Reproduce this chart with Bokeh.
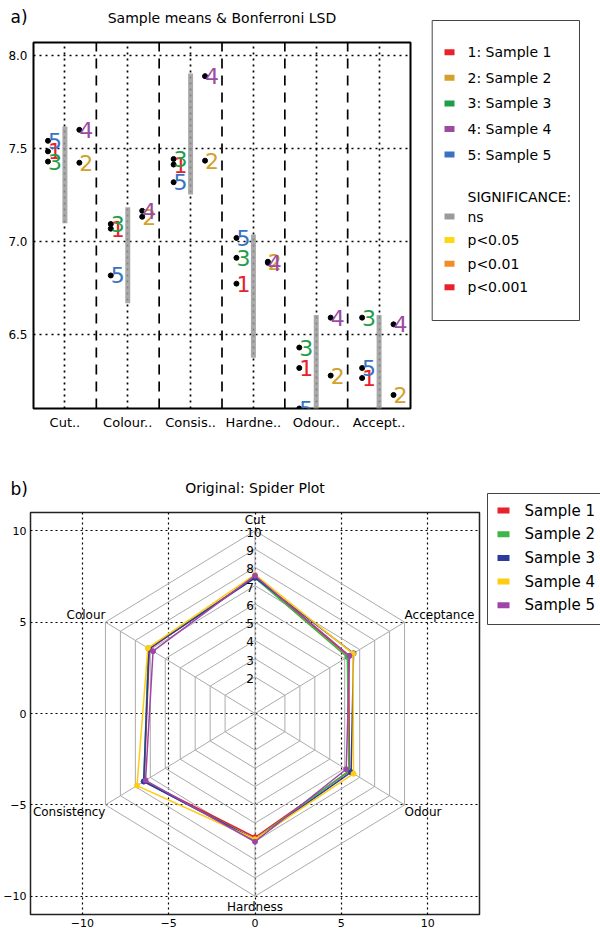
import numpy as np
from bokeh.plotting import figure
from bokeh.layouts import row, column
from bokeh.models import FixedTicker, Range1d, PrintfTickFormatter
from bokeh.core.properties import value
from bokeh.embed import file_html
from bokeh.resources import INLINE

FONT = "DejaVu Sans"

# ---------------- data: chart a) ----------------
attributes = ["Cut..", "Colour..", "Consis..", "Hardne..", "Odour..", "Accept.."]
sample_ids = ["1", "2", "3", "4", "5"]
sample_names = ["Sample 1", "Sample 2", "Sample 3", "Sample 4", "Sample 5"]
mean_s1 = [7.484, 7.068, 7.413, 6.772, 6.318, 6.264]
mean_s2 = [7.423, 7.132, 7.434, 6.890, 6.277, 6.173]
mean_s3 = [7.429, 7.093, 7.443, 6.911, 6.428, 6.589]
mean_s4 = [7.600, 7.164, 7.889, 6.884, 6.589, 6.553]
mean_s5 = [7.541, 6.816, 7.318, 7.018, 6.100, 6.318]
column_offset = [-0.27, 0.23, -0.27, 0.23, -0.27]
lsd_low = [7.097, 6.667, 7.252, 6.373, 5.95, 5.95]
lsd_high = [7.618, 7.183, 7.903, 7.036, 6.603, 6.603]
sample_colors_a = ["#e8212b", "#d4a12a", "#1f9e4a", "#9c4ca0", "#3a72c2"]
sig_labels = ["ns", "p<0.05", "p<0.01", "p<0.001"]
sig_colors = ["#9b9b9b", "#ffd814", "#f28c28", "#e8212b"]
y_ticks_a = [6.5, 7.0, 7.5, 8.0]
y_range_a = (6.1, 8.07)

# ---------------- data: chart b) ----------------
spider_axes = ["Cut", "Colour", "Consistency", "Hardness", "Odour", "Acceptance"]
spider_levels = [2, 3, 4, 5, 6, 7, 8, 9, 10]
spider_colors = ["#e8212b", "#3db549", "#2b3b9c", "#ffcc11", "#9e45a8"]
ticks_b = [-10, -5, 0, 5, 10]

means = [mean_s1, mean_s2, mean_s3, mean_s4, mean_s5]


def blank(width, height):
    f = figure(width=width, height=height, x_range=Range1d(0, width), y_range=Range1d(height, 0),
               output_backend="svg", toolbar_location=None, min_border=0, frame_align=False)
    f.axis.visible = False
    f.grid.visible = False
    f.outline_line_color = None
    return f


# ================= chart a =================
headA = blank(423, 38)
headA.text(x=[10], y=[16.5], text=["a)"], text_font=value(FONT), text_font_size="17px",
           text_baseline="middle", text_align="left", text_color="black")
headA.text(x=[221.5], y=[17.5], text=["Sample means & Bonferroni LSD"], text_font=value(FONT),
           text_font_size="14px", text_baseline="middle", text_align="center", text_color="black")

figA = figure(width=423, height=422, x_range=Range1d(-0.5, len(attributes) - 0.5),
              y_range=Range1d(*y_range_a), output_backend="svg", toolbar_location=None,
              min_border_left=33, min_border_right=13, min_border_top=4, min_border_bottom=52,
              frame_align=False)
figA.outline_line_color = "black"
figA.outline_line_width = 2
figA.axis.axis_line_color = None
figA.axis.major_tick_in = 0
figA.axis.major_tick_out = 0
figA.axis.minor_tick_in = 0
figA.axis.minor_tick_out = 0
figA.axis.major_label_text_font = FONT
figA.axis.major_label_text_color = "black"
cat_x = list(range(len(attributes)))
figA.xaxis.ticker = FixedTicker(ticks=cat_x)
figA.xaxis.major_label_overrides = {i: attributes[i] for i in cat_x}
figA.xaxis.major_label_text_font_size = "13px"
figA.xaxis.major_label_standoff = 6
figA.yaxis.ticker = FixedTicker(ticks=y_ticks_a)
figA.yaxis.formatter = PrintfTickFormatter(format="%.1f")
figA.yaxis.major_label_text_font_size = "12px"
figA.yaxis.major_label_standoff = 6
figA.xgrid.ticker = FixedTicker(ticks=cat_x)
figA.ygrid.ticker = FixedTicker(ticks=y_ticks_a)
figA.grid.grid_line_color = "black"
figA.grid.grid_line_dash = "2 4"
figA.grid.grid_line_width = 1.7

separators = [i + 0.5 for i in cat_x[:-1]]
figA.segment(x0=separators, y0=y_range_a[0], x1=separators, y1=y_range_a[1],
             line_color="black", line_width=1.7, line_dash="10 7")
figA.segment(x0=cat_x, y0=lsd_low, x1=cat_x, y1=lsd_high, line_color=sig_colors[0],
             line_width=5, line_alpha=0.85)

for k in range(len(sample_ids)):
    xs = [i + column_offset[k] for i in cat_x]
    figA.scatter(x=xs, y=means[k], size=5, color="black")
for k in range(len(sample_ids)):
    xs = [i + column_offset[k] for i in cat_x]
    figA.text(x=xs, y=means[k], text=[sample_ids[k]] * len(xs), text_color=sample_colors_a[k],
              text_font=value(FONT), text_font_size="22px", text_align="left",
              text_baseline="alphabetic")

legA = blank(177, 460)
legA.quad(left=8.7, right=156, top=20, bottom=320, fill_color="white", line_color="#444", line_width=1)
rows_a = [51.7 + 25.6 * i for i in range(len(sample_ids))]
legA.rect(x=[26] * len(rows_a), y=rows_a, width=10, height=6, fill_color=sample_colors_a, line_color=None)
legA.text(x=[44] * len(rows_a), y=rows_a, text=[f"{sample_ids[i]}: {sample_names[i]}" for i in range(5)],
          text_font=value(FONT), text_font_size="14px", text_baseline="middle", text_color="black")
legA.text(x=[44], y=[196], text=["SIGNIFICANCE:"], text_font=value(FONT), text_font_size="14px",
          text_baseline="middle", text_color="black")
rows_s = [216 + 23.6 * i for i in range(len(sig_labels))]
legA.rect(x=[26] * len(rows_s), y=rows_s, width=10, height=6, fill_color=sig_colors, line_color=None)
legA.text(x=[44] * len(rows_s), y=rows_s, text=sig_labels, text_font=value(FONT), text_font_size="14px",
          text_baseline="middle", text_color="black")

# ================= chart b =================
headB = blank(483, 46)
headB.text(x=[10], y=[28.5], text=["b)"], text_font=value(FONT), text_font_size="17px",
           text_baseline="middle", text_align="left", text_color="black")
headB.text(x=[254.5], y=[27], text=["Original: Spider Plot"], text_font=value(FONT),
           text_font_size="14px", text_baseline="middle", text_align="center", text_color="black")

figB = figure(width=483, height=426, x_range=Range1d(-13, 13), y_range=Range1d(-11, 11),
              output_backend="svg", toolbar_location=None,
              min_border_left=30, min_border_right=4, min_border_top=6, min_border_bottom=18,
              frame_align=False)
figB.outline_line_color = "#222"
figB.outline_line_width = 1.5
figB.axis.axis_line_color = None
figB.axis.major_tick_in = 0
figB.axis.major_tick_out = 0
figB.axis.minor_tick_in = 0
figB.axis.minor_tick_out = 0
figB.axis.ticker = FixedTicker(ticks=ticks_b)
figB.axis.major_label_text_font = FONT
figB.axis.major_label_text_font_size = "11px"
figB.axis.major_label_text_color = "black"
figB.axis.major_label_standoff = 4
figB.grid.ticker = FixedTicker(ticks=ticks_b)
figB.grid.grid_line_color = "black"
figB.grid.grid_line_dash = "2 3"
figB.grid.grid_line_width = 1.2

n_ax = len(spider_axes)
angles = np.deg2rad(90 + 360.0 / n_ax * np.arange(n_ax))
ca, sa = np.cos(angles), np.sin(angles)
r_max = spider_levels[-1]

web_xs = [list(np.append(l * ca, l * ca[0])) for l in spider_levels]
web_ys = [list(np.append(l * sa, l * sa[0])) for l in spider_levels]
figB.multi_line(xs=web_xs, ys=web_ys, line_color="#ababab", line_width=1)
figB.segment(x0=[0] * n_ax, y0=[0] * n_ax, x1=list(r_max * ca), y1=list(r_max * sa),
             line_color="#ababab", line_width=1)

for k in range(len(sample_names)):
    v = np.array(means[k])
    xs = np.append(v * ca, v[0] * ca[0])
    ys = np.append(v * sa, v[0] * sa[0])
    figB.line(x=xs, y=ys, line_color=spider_colors[k], line_width=1.5)
    figB.scatter(x=v * ca, y=v * sa, size=5, color=spider_colors[k])

figB.text(x=[-0.5] * len(spider_levels), y=[l - 0.08 for l in spider_levels],
          text=[str(l) for l in spider_levels], text_font=value(FONT), text_font_size="12px",
          text_align="left", text_baseline="alphabetic", text_color="black")

for j in range(n_ax):
    c, s = ca[j], sa[j]
    vertical = abs(c) < 0.1
    rr = r_max + 0.2 if vertical else r_max
    align = "center" if vertical else ("left" if c > 0 else "right")
    base = "bottom" if s > 0 else "top"
    figB.text(x=[rr * c], y=[rr * s], text=[spider_axes[j]], text_font=value(FONT),
              text_font_size="12px", text_align=align, text_baseline=base, text_color="black")

legB = blank(117, 472)
legB.multi_line(xs=[[117, 4, 4, 117]], ys=[[33, 33, 164, 164]], line_color="#444", line_width=1)
rows_b = [50 + 23.7 * i for i in range(len(sample_names))]
legB.rect(x=[20] * len(rows_b), y=rows_b, width=12, height=6, fill_color=spider_colors, line_color=None)
legB.text(x=[41] * len(rows_b), y=rows_b, text=sample_names, text_font=value(FONT), text_font_size="15px",
          text_baseline="middle", text_color="black")

layout = column(row(column(headA, figA), legA), row(column(headB, figB), legB))

with open("out.html", "w") as fh:
    fh.write(file_html(layout, INLINE))
